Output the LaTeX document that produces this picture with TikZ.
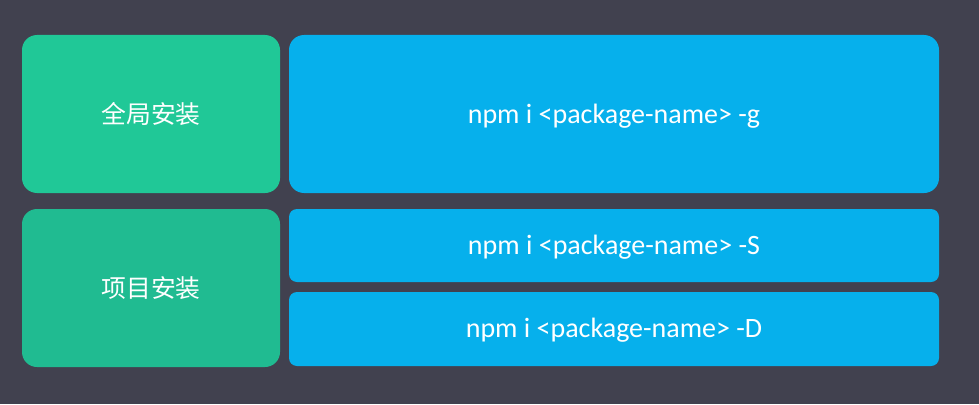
\documentclass[tikz,border=0pt]{standalone}
\usepackage{fontspec}
\setmainfont{Carlito}
\newfontfamily\cjk{Noto Sans CJK SC}
\definecolor{bgc}{HTML}{41414F}
\definecolor{gtop}{HTML}{20C897}
\definecolor{gbot}{HTML}{20BB91}
\definecolor{bluec}{HTML}{06B0EC}
\begin{document}
\begin{tikzpicture}[x=1pt,y=-1pt,
  bigbox/.style={rounded corners=15pt, text=white},
  smallbox/.style={rounded corners=8pt, text=white},
  cmd/.style={font=\fontsize{28}{32}\selectfont, text=white},
  zh/.style={font=\cjk\fontsize{24.8}{28}\selectfont, text=white}]
\fill[bgc] (0,0) rectangle (979,404);
\useasboundingbox (0,0) rectangle (979,404);
\fill[gtop, bigbox] (22,35) rectangle (280,193);
\fill[gbot, bigbox] (22,209) rectangle (280,367);
\fill[bluec, bigbox] (289,35) rectangle (939,193);
\fill[bluec, smallbox] (289,209) rectangle (939,282);
\fill[bluec, smallbox] (289,292) rectangle (939,366);
\node[zh] (g) at (151,114) {全局安装};
\node[zh] (p) at (151,288) {项目安装};
\node[cmd] (c1) at (614,116) {npm i <package-name> -g};
\node[cmd] (c2) at (614,247) {npm i <package-name> -S};
\node[cmd] (c3) at (614,330.5) {npm i <package-name> -D};
\end{tikzpicture}
\end{document}
